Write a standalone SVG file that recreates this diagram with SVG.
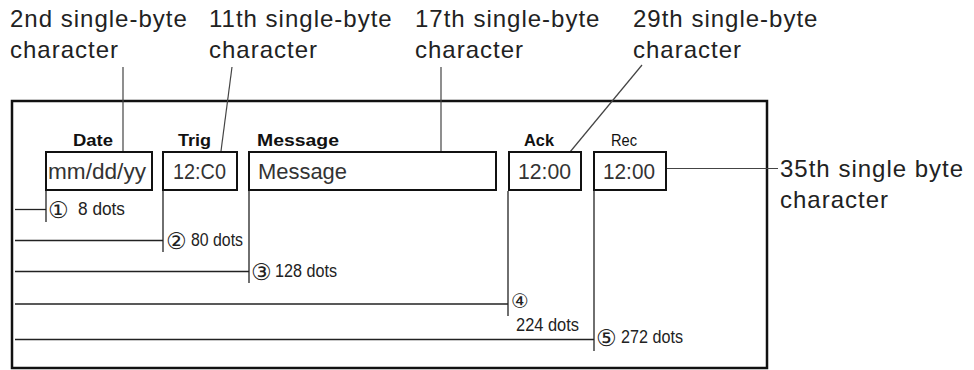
<svg xmlns="http://www.w3.org/2000/svg" width="974" height="370" viewBox="0 0 974 370">
<style>
.big{font-family:"Liberation Sans",Arial,sans-serif;font-size:24px;letter-spacing:1px;fill:#222}
.hdr{font-family:"Liberation Sans",Arial,sans-serif;font-size:17px;font-weight:bold;fill:#111}
.hdrr{font-family:"Liberation Sans",Arial,sans-serif;font-size:17px;fill:#111}
.val{font-family:"Liberation Sans",Arial,sans-serif;font-size:22px;fill:#333}
.dim{font-family:"Liberation Sans",Arial,sans-serif;font-size:18px;fill:#222}
.circ{font-family:"DejaVu Sans","Noto Sans CJK JP",sans-serif;font-size:23px;fill:#222}
.box{fill:#fff;stroke:#111;stroke-width:2}
.lead{stroke:#444;stroke-width:1.2;fill:none}
.dl{stroke:#222;stroke-width:1.3;fill:none}
</style>
<rect width="974" height="370" fill="#fff"/>
<g id="frame"><rect x="12" y="101" width="755" height="267" fill="none" stroke="#111" stroke-width="2.5"/></g>
<g id="connectors">
<line class="lead" x1="123" y1="67" x2="123" y2="151"/>
<line class="lead" x1="232" y1="67" x2="221" y2="151"/>
<line class="lead" x1="441" y1="67" x2="441" y2="152"/>
<line class="lead" x1="642" y1="65" x2="570" y2="152"/>
<line class="lead" x1="667" y1="168.5" x2="778" y2="168.5"/>
<line class="dl" x1="15" y1="209.5" x2="46" y2="209.5"/>
<line class="dl" x1="46" y1="190" x2="46" y2="222"/>
<line class="dl" x1="15" y1="240.5" x2="163" y2="240.5"/>
<line class="dl" x1="163" y1="190" x2="163" y2="252"/>
<line class="dl" x1="15" y1="271.5" x2="249" y2="271.5"/>
<line class="dl" x1="249" y1="191" x2="249" y2="283"/>
<line class="dl" x1="15" y1="304" x2="508" y2="304"/>
<line class="dl" x1="508" y1="191" x2="508" y2="316"/>
<line class="dl" x1="15" y1="339.5" x2="594" y2="339.5"/>
<line class="dl" x1="594" y1="191" x2="594" y2="351"/>
</g>
<g id="date">
<text class="hdr" x="73" y="146" textLength="40" lengthAdjust="spacingAndGlyphs">Date</text>
<rect class="box" x="46" y="152" width="106" height="38"/>
<text class="val" x="48" y="179" textLength="98" lengthAdjust="spacingAndGlyphs">mm/dd/yy</text>
</g>
<g id="trig">
<text class="hdr" x="178" y="146" textLength="33" lengthAdjust="spacingAndGlyphs">Trig</text>
<rect class="box" x="163" y="152" width="74" height="38"/>
<text class="val" x="173" y="179" textLength="53" lengthAdjust="spacingAndGlyphs">12:C0</text>
</g>
<g id="message">
<text class="hdr" x="257" y="146" textLength="82" lengthAdjust="spacingAndGlyphs">Message</text>
<rect class="box" x="249" y="152" width="247" height="38"/>
<text class="val" x="258" y="179" textLength="89" lengthAdjust="spacingAndGlyphs">Message</text>
</g>
<g id="ack">
<text class="hdr" x="524" y="146" textLength="30" lengthAdjust="spacingAndGlyphs">Ack</text>
<rect class="box" x="509" y="152" width="72" height="38"/>
<text class="val" x="518" y="179" textLength="53" lengthAdjust="spacingAndGlyphs">12:00</text>
</g>
<g id="rec">
<text class="hdrr" x="611" y="146" textLength="26" lengthAdjust="spacingAndGlyphs">Rec</text>
<rect class="box" x="594" y="152" width="72" height="38"/>
<text class="val" x="603" y="179" textLength="52" lengthAdjust="spacingAndGlyphs">12:00</text>
</g>
<g id="label-2nd"><text class="big" x="10" y="27">2nd single-byte</text><text class="big" x="10" y="58">character</text></g>
<g id="label-11th"><text class="big" x="209" y="27">11th single-byte</text><text class="big" x="209" y="58">character</text></g>
<g id="label-17th"><text class="big" x="415" y="27">17th single-byte</text><text class="big" x="415" y="58">character</text></g>
<g id="label-29th"><text class="big" x="633" y="27">29th single-byte</text><text class="big" x="633" y="58">character</text></g>
<g id="label-35th"><text class="big" x="780" y="177">35th single byte</text><text class="big" x="780" y="208">character</text></g>
<g id="dim-1"><text class="circ" x="48" y="218">①</text><text class="dim" x="78" y="215" textLength="47" lengthAdjust="spacingAndGlyphs">8 dots</text></g>
<g id="dim-2"><text class="circ" x="166" y="249">②</text><text class="dim" x="191" y="246" textLength="52" lengthAdjust="spacingAndGlyphs">80 dots</text></g>
<g id="dim-3"><text class="circ" x="251" y="280">③</text><text class="dim" x="275" y="277" textLength="62" lengthAdjust="spacingAndGlyphs">128 dots</text></g>
<g id="dim-4"><text class="circ" x="511" y="308" style="font-size:20px">④</text><text class="dim" x="516" y="331" textLength="63" lengthAdjust="spacingAndGlyphs">224 dots</text></g>
<g id="dim-5"><text class="circ" x="596" y="346">⑤</text><text class="dim" x="621" y="343" textLength="62" lengthAdjust="spacingAndGlyphs">272 dots</text></g>
</svg>
